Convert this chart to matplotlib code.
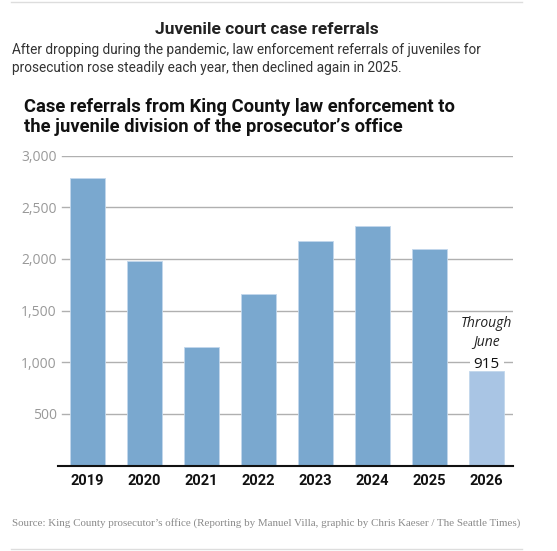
import matplotlib.pyplot as plt
from matplotlib.lines import Line2D

years = ['2019', '2020', '2021', '2022', '2023', '2024', '2025', '2026']
referrals = [2780, 1980, 1145, 1660, 2170, 2315, 2095, 915]
partial_year = '2026'
y_ticks = [500, 1000, 1500, 2000, 2500, 3000]

W, H = 557, 551
BLUE = '#7aa8cf'
LIGHT_BLUE = '#a9c5e4'


def fx(px):
    return px / W


def fy(py):
    return 1 - py / H


fig = plt.figure(figsize=(W / 100, H / 100), dpi=100)
fig.patch.set_facecolor('white')

# ── Header text ──
fig.text(fx(267), fy(30), 'Juvenile court case referrals', ha='center', va='center',
         fontsize=12.5, fontweight='bold', family=['Roboto', 'DejaVu Sans'], color='#222222')
fig.text(fx(12), fy(59), 'After dropping during the pandemic, law enforcement referrals of juveniles for\n'
         'prosecution rose steadily each year, then declined again in 2025.',
         ha='left', va='center', fontsize=9.8, linespacing=1.4,
         family=['Roboto', 'DejaVu Sans'], color='#333333')
fig.text(fx(24), fy(117), 'Case referrals from King County law enforcement to\n'
         'the juvenile division of the prosecutor\u2019s office',
         ha='left', va='center', fontsize=13.2, fontweight='bold', linespacing=1.15,
         family=['Roboto', 'DejaVu Sans'], color='#111111')
fig.text(fx(12), fy(523), 'Source: King County prosecutor\u2019s office (Reporting by Manuel Villa, '
         'graphic by Chris Kaeser / The Seattle Times)',
         ha='left', va='center', fontsize=7.9, family=['Liberation Serif', 'DejaVu Serif'],
         color='#8a8a8a')

# thin rules at top and bottom
for ypx in (1.5, 549):
    fig.add_artist(Line2D([fx(11), fx(522)], [fy(ypx), fy(ypx)], color='#dddddd', lw=1))

# ── Chart ──
ax = fig.add_axes([fx(58), fy(465.6), fx(513 - 58), (465.6 - 155.7) / H])
x = list(range(len(years)))
colors = [LIGHT_BLUE if y == partial_year else BLUE for y in years]
ax.bar(x, referrals, width=0.615, color=colors, edgecolor='#c2d7ec', linewidth=0.6, zorder=2)

for t in y_ticks:
    ax.axhline(t, xmin=4 / 455, xmax=1, color='#b0b0b0', lw=1, zorder=1)

ax.set_xlim(-0.51, 7.46)
ax.set_ylim(0, 3000)
ax.set_yticks(y_ticks)
ax.set_yticklabels([f'{t:,}' for t in y_ticks], fontsize=10, color='#999999',
                   family=['Open Sans', 'DejaVu Sans'])
ax.set_xticks(x)
ax.set_xticklabels(years, fontsize=10.5, fontweight='bold',
                   family=['Roboto', 'DejaVu Sans'], color='#111111')
ax.tick_params(axis='y', length=0, pad=1)
ax.tick_params(axis='x', length=0, pad=6)
for s in ('top', 'right', 'left'):
    ax.spines[s].set_visible(False)
ax.spines['bottom'].set_color('#111111')
ax.spines['bottom'].set_linewidth(1.5)
ax.spines['bottom'].set_zorder(3)

# ── Partial-year annotation ──
i_last = years.index(partial_year)
v_last = referrals[i_last]
# label sits under the bars (zorder 1.5) so its white box only breaks the gridline
ax.annotate(f'{v_last:,}', (i_last, v_last), xytext=(0, 2.5), textcoords='offset points',
            ha='center', va='baseline', fontsize=11, color='#111111',
            family=['Open Sans', 'DejaVu Sans'],
            bbox=dict(boxstyle='square,pad=0.25', fc='white', ec='none'), zorder=1.5)
ax.annotate('Through\nJune', (i_last, v_last), xytext=(0, 16), textcoords='offset points',
            ha='center', va='bottom', fontsize=10, style='italic', color='#222222',
            linespacing=1.3, family=['Open Sans', 'DejaVu Sans'], zorder=4)

fig.savefig('out.png', dpi=100, facecolor='white')
